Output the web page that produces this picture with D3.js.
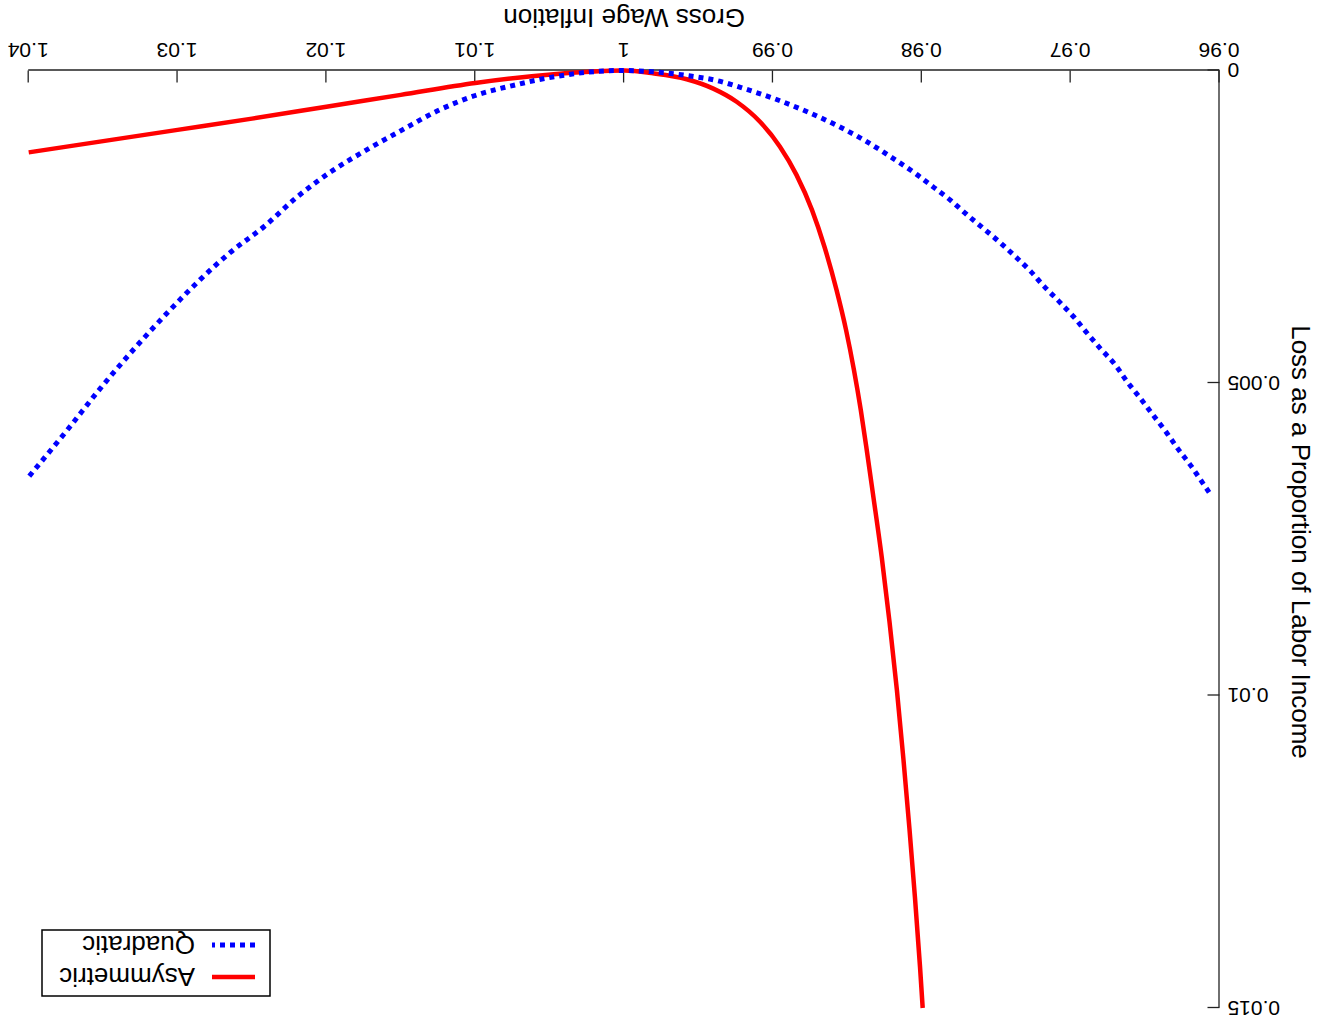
<!DOCTYPE html>
<html>
<head>
<meta charset="utf-8">
<script src="https://cdn.jsdelivr.net/npm/d3@7"></script>
<style>
  html, body { margin: 0; padding: 0; background: #fff; }
  svg { display: block; }
  text { font-family: "Liberation Sans", Arial, Helvetica, sans-serif; fill: #000; }
</style>
</head>
<body>
<script>
// ---- data ----
const xTickValues = [0.96, 0.97, 0.98, 0.99, 1, 1.01, 1.02, 1.03, 1.04];
const xTickLabels = ["0.96", "0.97", "0.98", "0.99", "1", "1.01", "1.02", "1.03", "1.04"];
const yTickValues = [0, 0.005, 0.01, 0.015];
const yTickLabels = ["0", "0.005", "0.01", "0.015"];

const seriesNames = ["Asymmetric", "Quadratic"];

const asymX = [0.97994, 0.98012, 0.98046, 0.98083, 0.98123, 0.98167, 0.98217, 0.98269, 0.98329, 0.98370,
               0.98410, 0.98456, 0.98509, 0.98573, 0.98654, 0.98738, 0.98842, 0.98953, 0.99087, 0.99244,
               0.99401, 0.99579, 0.99806, 1.0000, 1.00473, 1.0100, 1.0150, 1.0200, 1.0250, 1.0300,
               1.0350, 1.0400];
const asymY = [0.01500, 0.01434, 0.01323, 0.01213, 0.01103, 0.00992, 0.00882, 0.00779, 0.00676, 0.00607,
               0.00543, 0.00479, 0.00415, 0.00351, 0.00282, 0.00223, 0.00167, 0.00122, 0.00082, 0.00050,
               0.00029, 0.00014, 0.000045, 0.0, 0.00006, 0.00020, 0.00039, 0.00058, 0.00077, 0.00095,
               0.00113, 0.00131];

const quadX = [0.9607, 0.9611, 0.9619, 0.9628, 0.9636, 0.9645, 0.9653, 0.9662, 0.9670, 0.9680,
               0.9689, 0.9698, 0.9708, 0.9718, 0.9727, 0.9737, 0.9748, 0.9759, 0.9770, 0.9781,
               0.9792, 0.9803, 0.9821, 0.9839, 0.9857, 0.9877, 0.9898, 0.9918, 0.9938, 0.9958,
               0.9981, 1.0000, 1.0010, 1.0047, 1.0073, 1.0100, 1.0124, 1.0149, 1.0173, 1.0197,
               1.0220, 1.0242, 1.0264, 1.0285, 1.0305, 1.0329, 1.0352, 1.0374, 1.0400];
const quadY = [0.00675, 0.00661, 0.00633, 0.00605, 0.00578, 0.00550, 0.00525, 0.00498, 0.00471, 0.00445,
               0.00420, 0.00394, 0.00369, 0.00345, 0.00321, 0.00298, 0.00274, 0.00252, 0.00230, 0.00207,
               0.00187, 0.00167, 0.00138, 0.00111, 0.00088, 0.00066, 0.00046, 0.00030, 0.00016, 0.00008,
               0.00002, 0.0, 0.000004, 0.00010, 0.00023, 0.00040, 0.00063, 0.00095, 0.00127, 0.00162,
               0.00203, 0.00250, 0.00290, 0.00335, 0.00383, 0.00445, 0.00509, 0.00575, 0.00650];

// ---- layout ----
const W = 1328, H = 1027;
const svg = d3.select("body").append("svg").attr("width", W).attr("height", H);
// the whole figure is shown turned upside down
const root = svg.append("g").attr("transform", `rotate(180 ${W / 2} ${H / 2})`);

const x = d3.scaleLinear().domain([0.96, 1.04]).range([108.5, 1299.3]);
const y = d3.scaleLinear().domain([0, 0.015]).range([956.5, 19]);

// axes
const xAxis = d3.axisBottom(x).tickValues(xTickValues)
  .tickFormat((d, i) => xTickLabels[i]).tickSizeInner(-12).tickSizeOuter(0).tickPadding(13);
const yAxis = d3.axisLeft(y).tickValues(yTickValues)
  .tickFormat((d, i) => yTickLabels[i]).tickSizeInner(-12).tickSizeOuter(0).tickPadding(8);

const gx = root.append("g").attr("transform", `translate(0,${y(0)})`).call(xAxis);
const gy = root.append("g").attr("transform", `translate(${x(0.96)},0)`).call(yAxis);
[gx, gy].forEach(g => {
  g.selectAll("path.domain").attr("stroke", "#222").attr("stroke-width", 1.3);
  g.selectAll(".tick line").attr("stroke", "#222").attr("stroke-width", 1.3);
  g.selectAll(".tick text").attr("font-size", 21).attr("font-family", "Liberation Sans, Arial, sans-serif").attr("fill", "#000");
});

// axis titles
root.append("text").attr("x", (x(0.96) + x(1.04)) / 2).attr("y", 1018)
  .attr("text-anchor", "middle").attr("font-size", 26).text("Gross Wage Inflation");
root.append("text").attr("transform", `translate(36,${485}) rotate(-90)`)
  .attr("text-anchor", "middle").attr("font-size", 26).text("Loss as a Proportion of Labor Income");

// lines
const line = d3.line().x(d => x(d[0])).y(d => y(d[1])).curve(d3.curveMonotoneX);
const asymData = asymX.map((v, i) => [v, asymY[i]]);
const quadData = quadX.map((v, i) => [v, quadY[i]]);

root.append("path").datum(asymData).attr("d", line)
  .attr("fill", "none").attr("stroke", "#ff0000").attr("stroke-width", 4.5);
root.append("path").datum(quadData).attr("d", line)
  .attr("fill", "none").attr("stroke", "#0000ff").attr("stroke-width", 5)
  .attr("stroke-dasharray", "5,5");

// legend
const lg = root.append("g");
lg.append("rect").attr("x", 1058).attr("y", 31).attr("width", 228).attr("height", 66)
  .attr("fill", "#fff").attr("stroke", "#000").attr("stroke-width", 1.5);
const legendStyles = [
  { color: "#ff0000", dash: null, width: 4.5 },
  { color: "#0000ff", dash: "5,5", width: 5 }
];
seriesNames.forEach((name, i) => {
  const cy = 50 + i * 32;
  const l = lg.append("line").attr("x1", 1073).attr("x2", 1116).attr("y1", cy).attr("y2", cy)
    .attr("stroke", legendStyles[i].color).attr("stroke-width", legendStyles[i].width);
  if (legendStyles[i].dash) l.attr("stroke-dasharray", legendStyles[i].dash);
  lg.append("text").attr("x", 1133).attr("y", cy + 9).attr("font-size", 26).text(name);
});
</script>
</body>
</html>
